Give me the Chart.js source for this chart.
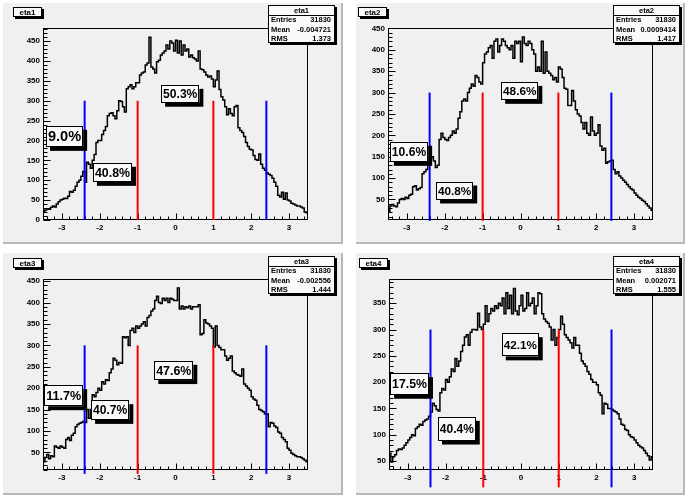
<!DOCTYPE html>
<html>
<head>
<meta charset="utf-8">
<script src="https://cdn.jsdelivr.net/npm/chart.js@4.4.0/dist/chart.umd.min.js"></script>
<style>
    html, body { margin: 0; padding: 0; background: #ffffff; }
    body { width: 685px; height: 497px; position: relative; overflow: hidden; }
    .pad {
        position: absolute;
        background: #f0f0f0;
        border-right: 2px solid #b8b8b8;
        border-bottom: 2px solid #b8b8b8;
    }
    .pad canvas { position: absolute; left: 0; top: 0; }
</style>
</head>
<body>
<div class="pad" style="left:3px;top:3px;width:338px;height:239px"><canvas id="pad1" width="338" height="239"></canvas></div>
<div class="pad" style="left:356px;top:3px;width:327px;height:239px"><canvas id="pad2" width="327" height="239"></canvas></div>
<div class="pad" style="left:3px;top:253px;width:338px;height:240px"><canvas id="pad3" width="338" height="240"></canvas></div>
<div class="pad" style="left:356px;top:253px;width:327px;height:240px"><canvas id="pad4" width="327" height="240"></canvas></div>

<script>
// histogram binning (140 bins over -3.5 .. 3.5)
const xMin = -3.5;
const xMax = 3.5;
const binWidth = 0.05;

const eta1Counts = [
    22, 25, 28, 27, 32, 35, 33, 40, 46, 50,
    52, 55, 54, 60, 72, 70, 75, 85, 95, 100,
    110, 122, 95, 145, 140, 130, 150, 165, 195, 200,
    200, 215, 225, 235, 262, 268, 270, 262, 255, 275,
    300, 298, 285, 272, 330, 335, 340, 330, 335, 345,
    345, 365, 370, 372, 390, 395, 460, 385, 380, 370,
    398, 402, 415, 420, 425, 440, 430, 450, 445, 425,
    452, 420, 450, 415, 440, 425, 430, 410, 415, 408,
    405, 400, 425, 380, 378, 372, 365, 360, 362, 355,
    335, 352, 375, 328, 310, 302, 285, 265, 280, 268,
    262, 285, 288, 232, 225, 220, 210, 195, 185, 178,
    176, 162, 152, 150, 166, 140, 130, 125, 118, 115,
    112, 105, 95, 85, 62, 58, 70, 52, 68, 50,
    48, 42, 40, 38, 35, 35, 33, 30, 20, 18
];

const eta2Counts = [
    22, 35, 38, 35, 33, 42, 50, 52, 50, 55,
    52, 60, 62, 80, 82, 72, 75, 78, 110, 115,
    120, 135, 145, 150, 140, 125, 130, 190, 205, 195,
    190, 188, 195, 200, 210, 205, 215, 240, 255, 280,
    285, 280, 300, 310, 320, 315, 340, 335, 325, 320,
    370, 390, 395, 405, 410, 380, 420, 425, 395, 410,
    425, 420, 410, 405, 400, 410, 380, 420, 415, 420,
    372, 430, 415, 410, 420, 415, 400, 390, 350, 360,
    350, 420, 345, 395, 350, 345, 340, 330, 335, 325,
    360, 355, 335, 310, 308, 270, 270, 305, 280, 260,
    250, 245, 230, 215, 230, 205, 200, 243, 210, 200,
    205, 225, 175, 165, 170, 135, 138, 140, 142, 120,
    110, 115, 105, 100, 95, 90, 85, 80, 75, 72,
    65, 60, 55, 52, 48, 45, 40, 35, 30, 25
];

const eta3Counts = [
    28, 38, 45, 35, 42, 40, 65, 62, 60, 65,
    62, 60, 80, 85, 78, 90, 95, 110, 115, 118,
    120, 122, 120, 150, 130, 150, 185, 180, 190, 200,
    195, 215, 210, 220, 218, 236, 245, 270, 265, 255,
    260, 258, 320, 318, 320, 300, 335, 340, 330, 345,
    340, 345, 350, 355, 345, 365, 370, 380, 385, 405,
    415, 400, 398, 410, 405, 410, 400, 410, 408, 405,
    405, 434, 385, 392, 385, 390, 388, 392, 385, 390,
    390, 390, 395, 325, 328, 360, 352, 350, 345, 340,
    296, 345, 300, 295, 290, 290, 275, 265, 270, 275,
    240, 236, 232, 230, 228, 245, 210, 205, 200, 195,
    180, 175, 172, 160, 150, 148, 145, 140, 140, 110,
    120, 118, 112, 108, 98, 95, 85, 80, 75, 60,
    55, 48, 45, 42, 40, 40, 38, 35, 32, 28
];

const eta4Counts = [
    65, 48, 58, 62, 70, 73, 72, 75, 80, 85,
    90, 95, 100, 98, 112, 115, 120, 118, 125, 128,
    130, 135, 143, 160, 155, 148, 145, 180, 188, 185,
    205, 200, 210, 225, 220, 245, 230, 240, 258, 270,
    286, 290, 270, 295, 300, 300, 299, 331, 305, 300,
    310, 345, 315, 330, 340, 335, 345, 340, 350, 345,
    360, 330, 370, 340, 365, 330, 378, 335, 328, 345,
    365, 335, 340, 370, 345, 350, 360, 330, 345, 370,
    368, 330, 320, 315, 312, 305, 280, 300, 270, 285,
    300, 325, 310, 290, 285, 280, 275, 265, 285, 270,
    270, 255, 240, 235, 230, 220, 215, 205, 200, 200,
    195, 180, 175, 140, 160, 158, 150, 150, 148, 145,
    143, 140, 130, 120, 118, 110, 108, 100, 96, 95,
    90, 85, 80, 77, 75, 70, 65, 60, 52, 58
];

const histNames = ['eta1', 'eta2', 'eta3', 'eta4'];
const entries = [31830, 31830, 31830, 31830];
const means = ['-0.004721', '0.0009414', '-0.002556', '0.002071'];
const rmsValues = ['1.373', '1.417', '1.444', '1.555'];

// fraction of entries in |eta|>2.4, 1<|eta|<2.4, |eta|<1
const outerFractions = ['9.0%', '10.6%', '11.7%', '17.5%'];
const middleFractions = ['40.8%', '40.8%', '40.7%', '40.4%'];
const centralFractions = ['50.3%', '48.6%', '47.6%', '42.1%'];

// cut lines drawn from 0 up to cutLineTop
const innerCut = 1;
const outerCut = 2.4;
const cutLineTop = 300;

// y axis limits per histogram, label steps for both axes
const yMins = [0, 2, 9, 33];
const yMaxs = [483, 451, 455, 396];
const xLabelStep = 1;
const yLabelStep = 50;

/**
 * Layout: axis sizes and padding so the frames land where the original pads had them
 */
const padLayout = [
    { yAxisWidth: 40, top: 25, right: 33, xAxisHeight: 22 },
    { yAxisWidth: 32, top: 25, right: 30, xAxisHeight: 22 },
    { yAxisWidth: 40, top: 26, right: 33, xAxisHeight: 23 },
    { yAxisWidth: 33, top: 26, right: 30, xAxisHeight: 23 }
];

// label boxes in data coordinates: [x1, x2, yLow, yHigh] for outer, middle, central
const labelBoxes = [
    [[-3.42, -2.44, 184, 237], [-2.18, -1.15, 96, 144], [-0.38, 0.63, 295, 340]],
    [[-3.45, -2.44, 138, 185], [-2.23, -1.25, 50, 92], [-0.51, 0.47, 283, 325]],
    [[-3.47, -2.44, 158, 207], [-2.23, -1.22, 126, 172], [-0.56, 0.47, 219, 264]],
    [[-3.47, -2.44, 176, 217], [-2.20, -1.20, 89, 134], [-0.51, 0.47, 249, 293]]
];

const FONT = "'Liberation Sans', Arial, Helvetica, sans-serif";
const PAVE_FILL = '#fafafa';

/**
 * Turn bin contents into step points at the lower bin edges
 */
function toStepPoints(counts) {
    const points = counts.map((v, i) => ({ x: xMin + i * binWidth, y: v }));
    points.push({ x: xMax, y: counts[counts.length - 1] });
    return points;
}

/**
 * Ticks only on round multiples of step inside the axis range
 */
function roundTicks(step) {
    return (scale) => {
        const ticks = [];
        for (let v = Math.ceil(scale.min / step - 1e-9) * step; v <= scale.max + 1e-9; v += step) {
            ticks.push({ value: Math.round(v * 1000) / 1000 });
        }
        scale.ticks = ticks;
    };
}

function cutLine(x, color) {
    return {
        data: [{ x, y: 0 }, { x, y: cutLineTop }],
        borderColor: color,
        borderWidth: 2,
        pointRadius: 0,
        clip: false
    };
}

function drawPave(ctx, x, y, w, h, shadow) {
    ctx.fillStyle = '#000';
    ctx.fillRect(x + shadow, y + shadow, w, h);
    ctx.fillStyle = PAVE_FILL;
    ctx.fillRect(x, y, w, h);
    ctx.strokeStyle = '#000';
    ctx.lineWidth = 1;
    ctx.strokeRect(Math.round(x) + 0.5, Math.round(y) + 0.5, Math.round(w) - 1, Math.round(h) - 1);
}

/**
 * Frame, axis lines and ROOT style inward ticks
 */
const rootFrame = {
    id: 'rootFrame',
    beforeDatasetsDraw(chart) {
        const { ctx, chartArea: a, scales: { x, y } } = chart;
        ctx.save();
        ctx.strokeStyle = '#000';
        ctx.lineWidth = 1;
        const l = Math.round(a.left) + 0.5, r = Math.round(a.right) - 0.5;
        const t = Math.round(a.top) + 0.5, b = Math.round(a.bottom) - 0.5;
        ctx.strokeRect(l, t, r - l, b - t);

        ctx.beginPath();
        for (let v = Math.ceil(y.min / 10) * 10; v <= y.max; v += 10) {
            const py = Math.round(y.getPixelForValue(v)) + 0.5;
            const len = v % 50 === 0 ? 7 : 4;
            ctx.moveTo(l, py);
            ctx.lineTo(l + len, py);
        }
        for (let k = -17; k <= 17; k++) {
            const px = Math.round(x.getPixelForValue(k * 0.2)) + 0.5;
            const len = k % 5 === 0 ? 6 : 3;
            ctx.moveTo(px, b);
            ctx.lineTo(px, b - len);
        }
        ctx.stroke();
        ctx.restore();
    }
};

/**
 * Title box, stats box and the fraction labels
 */
const rootPaves = {
    id: 'rootPaves',
    afterDraw(chart) {
        const { ctx, chartArea: a, scales: { x, y } } = chart;
        const i = chart.options.plugins.rootPaves.index;
        ctx.save();

        // title
        drawPave(ctx, a.left - 30, a.top - 21, 29, 10, 2);
        ctx.fillStyle = '#000';
        ctx.font = `bold 8px ${FONT}`;
        ctx.textAlign = 'center';
        ctx.textBaseline = 'middle';
        ctx.fillText(histNames[i], a.left - 15.5, a.top - 15.5);

        // stats
        const sx = a.right - 40, sy = a.top - 23, sw = 67, sh = 38;
        drawPave(ctx, sx, sy, sw, sh, 2);
        ctx.beginPath();
        ctx.moveTo(sx, Math.round(sy + 10) + 0.5);
        ctx.lineTo(sx + sw, Math.round(sy + 10) + 0.5);
        ctx.stroke();
        ctx.fillStyle = '#000';
        ctx.font = `bold 7.5px ${FONT}`;
        ctx.fillText(histNames[i], sx + sw / 2, sy + 5.5);
        const rows = [['Entries', String(entries[i])], ['Mean', means[i]], ['RMS', rmsValues[i]]];
        rows.forEach(([name, val], r) => {
            const ry = sy + 15 + r * 9.5;
            ctx.textAlign = 'left';
            ctx.fillText(name, sx + 3, ry);
            ctx.textAlign = 'right';
            ctx.fillText(val, sx + sw - 4, ry);
        });

        // fraction labels
        const texts = [outerFractions[i], middleFractions[i], centralFractions[i]];
        labelBoxes[i].forEach(([x1, x2, y1, y2], k) => {
            const px1 = x.getPixelForValue(x1), px2 = x.getPixelForValue(x2);
            const py1 = y.getPixelForValue(y2), py2 = y.getPixelForValue(y1);
            const w = px2 - px1, h = py2 - py1;
            drawPave(ctx, px1, py1, w, h, 4);
            ctx.font = `bold 10px ${FONT}`;
            const w10 = ctx.measureText(texts[k]).width;
            const size = Math.min(0.9 * w / w10 * 10, 0.74 * h);
            ctx.font = `bold ${size.toFixed(1)}px ${FONT}`;
            ctx.fillStyle = '#000';
            ctx.textAlign = 'center';
            ctx.textBaseline = 'middle';
            ctx.fillText(texts[k], px1 + w / 2, py1 + h / 2 + 1);
        });
        ctx.restore();
    }
};

function makeHistogram(canvasId, i, counts) {
    const lay = padLayout[i];
    const tickFont = { family: FONT, size: 8, weight: 'bold' };
    return new Chart(document.getElementById(canvasId), {
        type: 'line',
        data: {
            datasets: [
                cutLine(-outerCut, '#0000ff'),
                cutLine(outerCut, '#0000ff'),
                cutLine(-innerCut, '#ff0000'),
                cutLine(innerCut, '#ff0000'),
                {
                    data: toStepPoints(counts),
                    stepped: 'before',
                    borderColor: '#000',
                    borderWidth: 1.5,
                    pointRadius: 0,
                    fill: false
                }
            ]
        },
        options: {
            responsive: false,
            animation: false,
            events: [],
            layout: { padding: { left: 0, top: lay.top, right: lay.right, bottom: 0 } },
            plugins: {
                legend: { display: false },
                tooltip: { enabled: false },
                rootPaves: { index: i }
            },
            scales: {
                x: {
                    type: 'linear',
                    min: xMin,
                    max: xMax,
                    grid: { display: false, drawTicks: false },
                    border: { display: false },
                    afterBuildTicks: roundTicks(xLabelStep),
                    ticks: {
                        autoSkip: false,
                        maxRotation: 0,
                        padding: 3,
                        color: '#000',
                        font: tickFont,
                        callback: (v) => String(v)
                    },
                    afterFit: (s) => { s.height = lay.xAxisHeight; }
                },
                y: {
                    type: 'linear',
                    min: yMins[i],
                    max: yMaxs[i],
                    grid: { display: false, drawTicks: false },
                    border: { display: false },
                    afterBuildTicks: roundTicks(yLabelStep),
                    ticks: {
                        autoSkip: false,
                        padding: 3,
                        color: '#000',
                        font: tickFont,
                        callback: (v) => String(v)
                    },
                    afterFit: (s) => { s.width = lay.yAxisWidth; }
                }
            }
        },
        plugins: [rootFrame, rootPaves]
    });
}

makeHistogram('pad1', 0, eta1Counts);
makeHistogram('pad2', 1, eta2Counts);
makeHistogram('pad3', 2, eta3Counts);
makeHistogram('pad4', 3, eta4Counts);
</script>
</body>
</html>
